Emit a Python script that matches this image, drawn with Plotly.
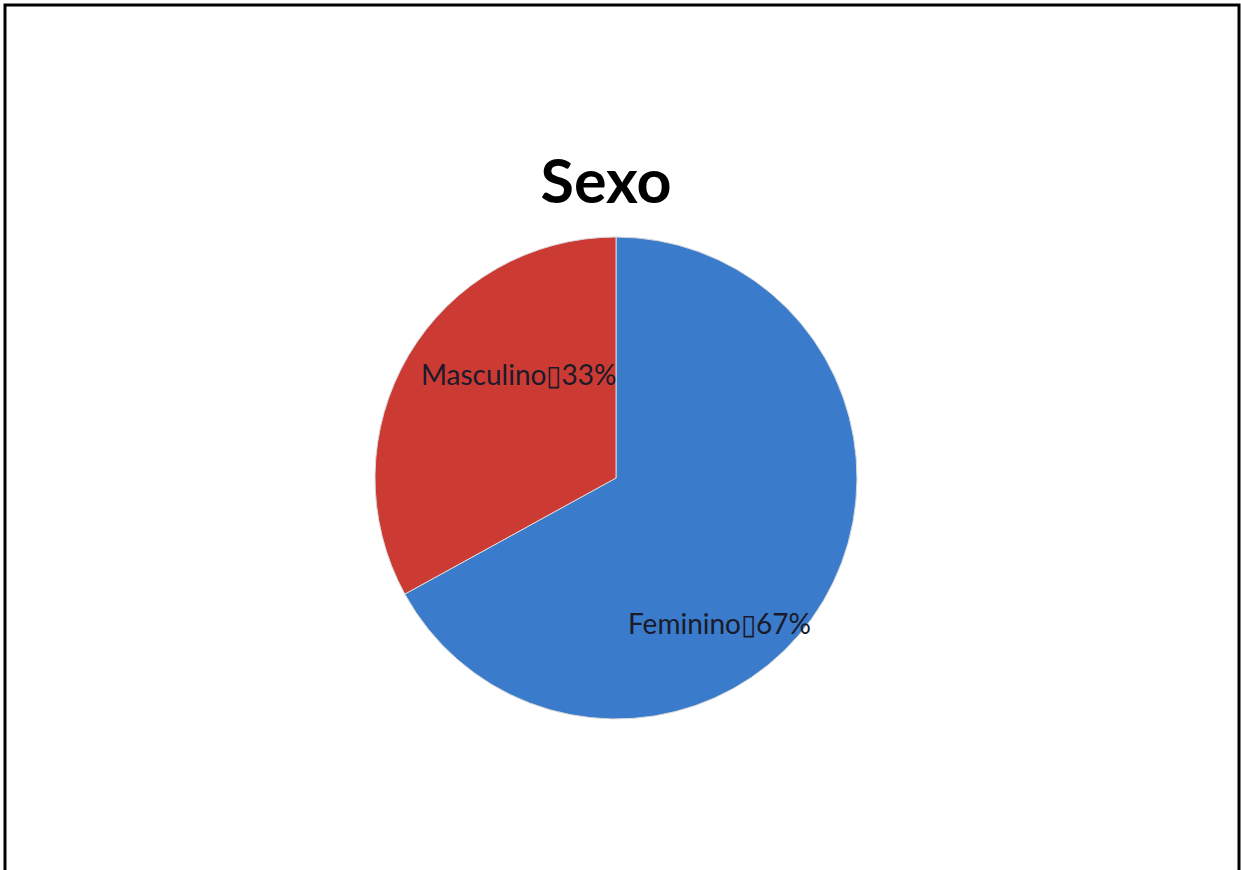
import plotly.graph_objects as go

categories = ["Feminino", "Masculino"]
values = [67, 33]
colors = ["#3A7BCB", "#CC3A34"]
title_text = "Sexo"
sep = "\u25AF"

W, H = 1241, 870

def px_x(x):
    return x / W

def px_y(y):
    return 1 - y / H

fig = go.Figure()
fig.add_trace(go.Pie(
    labels=categories,
    values=values,
    sort=False,
    direction="clockwise",
    rotation=0,
    marker=dict(colors=colors, line=dict(color="#D9D9D9", width=1)),
    textinfo="none",
    hoverinfo="label+percent",
    showlegend=False,
    domain=dict(x=[px_x(375), px_x(857)], y=[px_y(719), px_y(237)]),
))

# label positions (pixel coords of reference)
label_pos = {"Feminino": (719, 623), "Masculino": (518, 374)}
total = sum(values)
for cat, v in zip(categories, values):
    x, y = label_pos[cat]
    fig.add_annotation(
        x=px_x(x), y=px_y(y), xref="paper", yref="paper",
        text=f"{cat}{sep}{round(100 * v / total)}%",
        showarrow=False, xanchor="center", yanchor="middle",
        font=dict(family="Lato", size=28, color="#1a1a2a"),
    )

fig.add_shape(type="rect", xref="paper", yref="paper",
              x0=px_x(5), x1=px_x(1239), y0=-0.2, y1=px_y(5),
              line=dict(color="black", width=3), fillcolor="rgba(0,0,0,0)")

fig.update_layout(
    width=W, height=H,
    margin=dict(l=0, r=0, t=0, b=0),
    paper_bgcolor="white", plot_bgcolor="white",
    title=dict(text=f"<b>{title_text}</b>", x=px_x(606), xanchor="center",
               y=px_y(182), yanchor="middle",
               font=dict(family="Lato", size=61, color="black")),
)

fig.write_html("out.html",
               config={"displayModeBar": False},
               post_script="document.body.style.margin='0';document.body.style.overflow='hidden';")
